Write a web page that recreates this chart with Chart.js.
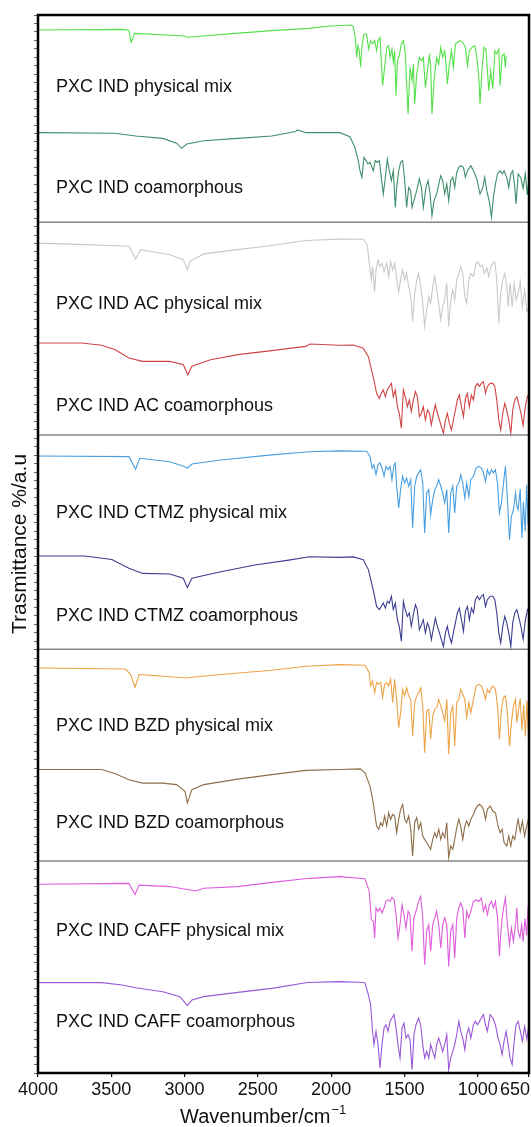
<!DOCTYPE html>
<html lang="en">
<head>
<meta charset="UTF-8">
<title>FTIR spectra</title>
<script src="https://cdn.jsdelivr.net/npm/chart.js"></script>
<style>
  html, body { margin: 0; padding: 0; background: #fff; }
  canvas { display: block; }
</style>
</head>
<body>
<canvas id="myChart" width="531" height="1127"></canvas>

<script>
    // spectra: [wavenumber cm-1, transmittance a.u. inside its own panel (0-10)]
    const pxcIndPm = [[4000,9.29],[3420,9.32],[3380,9.27],[3364,8.71],[3341,9.13],[3002,9.01],[2978,8.95],[2653,9.13],[2405,9.26],[2154,9.37],[2003,9.48],[1864,9.53],
        [1849,9.45],[1835,8.94],[1826,8.00],[1817,8.55],[1808,8.31],[1799,7.53],[1790,8.47],[1776,9.10],[1758,9.10],[1744,8.39],[1731,8.79],[1717,8.63],[1703,8.79],[1690,8.31],[1680,8.79],[1667,8.94],[1658,7.84],[1649,6.66],[1635,7.53],[1621,8.47],[1608,8.55],[1598,8.00],[1585,8.39],[1576,7.76],[1567,8.31],[1557,6.19],[1548,7.84],[1535,8.08],[1521,8.63],[1507,8.79],[1494,8.16],[1475,5.32],[1462,7.53],[1448,6.90],[1439,7.68],[1430,5.79],[1416,7.21],[1398,8.00],[1384,7.84],[1371,8.00],[1357,6.58],[1343,7.37],[1330,8.08],[1321,7.68],[1312,5.32],[1298,6.90],[1280,8.00],[1266,7.68],[1252,8.47],[1239,8.00],[1225,8.31],[1216,7.68],[1207,6.74],[1193,7.68],[1179,8.31],[1166,7.53],[1152,8.63],[1139,8.71],[1120,8.79],[1102,8.71],[1084,8.47],[1070,7.61],[1057,8.31],[1038,8.47],[1020,8.55],[1006,8.00],[993,7.13],[984,5.79],[970,7.53],[956,8.47],[943,8.39],[934,7.37],[924,6.42],[911,7.37],[897,6.50],[883,8.31],[870,8.16],[856,8.39],[847,6.66],[833,8.08],[820,8.16],[811,7.53],[806,8.08]];

    const pxcIndCo = [[4000,4.44],[3473,4.41],[3334,4.28],[3148,4.17],[3055,3.94],[3020,3.70],[2985,3.90],[2869,4.06],[2637,4.17],[2405,4.28],[2242,4.49],[2231,4.57],[2173,4.44],[1941,4.44],
        [1872,4.25],[1838,3.75],[1815,3.12],[1803,2.64],[1790,2.33],[1776,3.27],[1762,3.12],[1749,2.96],[1735,3.04],[1721,2.80],[1712,2.64],[1699,3.12],[1685,3.04],[1671,3.12],[1658,2.33],[1644,1.54],[1630,2.33],[1617,3.19],[1603,2.64],[1589,2.17],[1576,2.64],[1562,0.91],[1553,1.85],[1539,2.64],[1526,3.04],[1512,3.12],[1498,2.17],[1485,0.91],[1471,1.85],[1457,1.70],[1448,0.91],[1435,1.23],[1416,1.70],[1398,2.25],[1384,1.85],[1371,0.91],[1353,1.85],[1339,2.17],[1325,1.54],[1312,0.52],[1298,1.23],[1280,1.54],[1266,2.01],[1252,2.41],[1239,2.17],[1225,1.54],[1211,2.01],[1198,1.23],[1184,2.17],[1170,2.33],[1157,1.85],[1143,2.56],[1129,2.80],[1116,2.88],[1097,2.80],[1084,2.33],[1070,2.64],[1047,2.88],[1029,2.64],[1006,2.25],[984,1.54],[965,1.85],[952,2.33],[938,1.70],[920,1.15],[906,0.44],[893,1.38],[879,2.01],[865,2.49],[847,2.64],[833,2.49],[820,2.64],[802,2.33],[788,1.85],[774,2.49],[761,2.64],[747,1.85],[738,1.07],[724,2.49],[705,2.30],[690,1.80],[675,2.50],[662,1.50],[650,2.30]];

    const pxcIndAcPm = [[4000,9.22],[3682,9.15],[3380,9.07],[3334,8.48],[3299,8.91],[3101,8.67],[3009,8.44],[2981,7.96],[2962,8.36],[2869,8.71],[2637,8.91],[2405,9.11],[2173,9.34],[1941,9.41],
        [1781,9.40],[1753,9.13],[1740,8.26],[1726,7.48],[1717,8.11],[1703,6.93],[1694,7.95],[1680,8.42],[1667,8.11],[1653,8.26],[1639,7.87],[1621,8.26],[1608,7.64],[1594,8.34],[1580,7.95],[1567,8.26],[1553,7.56],[1539,6.93],[1526,7.48],[1512,7.95],[1498,7.48],[1485,7.79],[1471,7.16],[1457,6.69],[1444,5.50],[1430,6.85],[1416,7.48],[1403,7.79],[1389,7.16],[1375,6.37],[1362,5.27],[1348,6.06],[1334,6.69],[1321,6.37],[1307,7.16],[1293,7.64],[1280,7.00],[1266,6.37],[1252,5.59],[1239,6.22],[1225,6.53],[1211,7.32],[1198,5.27],[1184,6.53],[1170,7.00],[1157,6.53],[1143,7.48],[1129,7.79],[1116,8.11],[1102,7.79],[1088,6.69],[1075,6.37],[1061,7.48],[1047,7.79],[1029,7.64],[1011,8.26],[997,8.34],[984,8.11],[970,8.19],[956,7.79],[938,8.03],[924,7.64],[911,8.11],[897,8.26],[883,8.34],[870,7.48],[856,5.43],[843,6.85],[829,7.48],[815,7.79],[802,7.16],[792,6.22],[779,7.32],[765,6.22],[751,7.32],[738,6.53],[724,6.85],[710,7.40],[695,6.20],[680,7.00],[665,6.00],[650,6.20]];

    const pxcIndAcCo = [[4000,4.50],[3705,4.50],[3566,4.39],[3473,4.18],[3380,3.79],[3287,3.63],[3101,3.63],[3009,3.48],[2978,3.00],[2950,3.40],[2823,3.71],[2637,3.95],[2405,4.14],[2173,4.34],[2145,4.45],[1941,4.39],
        [1849,4.40],[1781,4.25],[1746,3.85],[1724,3.22],[1708,2.75],[1690,2.12],[1671,1.88],[1658,2.12],[1644,2.28],[1630,1.96],[1617,2.28],[1603,2.44],[1589,2.59],[1576,1.96],[1562,2.28],[1548,1.49],[1535,1.18],[1521,0.47],[1507,2.28],[1494,1.96],[1480,1.49],[1466,1.81],[1453,1.26],[1439,1.81],[1425,2.20],[1412,1.96],[1398,1.02],[1384,1.18],[1371,1.49],[1357,0.86],[1343,1.33],[1330,1.18],[1316,0.63],[1302,1.18],[1289,1.57],[1275,1.18],[1261,0.86],[1248,0.55],[1234,0.23],[1220,0.86],[1207,1.18],[1193,0.70],[1179,0.39],[1166,0.86],[1152,1.33],[1139,1.81],[1125,2.04],[1111,1.49],[1097,1.02],[1084,1.88],[1070,2.12],[1057,1.49],[1043,2.04],[1029,1.81],[1016,2.44],[1002,2.59],[988,2.44],[975,2.59],[961,2.67],[947,2.12],[934,2.44],[915,2.59],[897,2.59],[883,2.44],[870,1.81],[856,0.86],[843,0.39],[829,1.18],[815,1.65],[802,1.33],[788,0.86],[774,0.23],[761,1.33],[747,1.81],[733,1.96],[724,1.73],[705,1.20],[690,0.60],[675,1.50],[660,2.00],[650,1.90]];

    const pxcIndCtmzPm = [[4000,9.16],[3380,9.13],[3334,8.53],[3306,9.05],[3101,8.89],[2997,8.65],[2981,8.58],[2950,8.78],[2753,8.97],[2405,9.21],[2149,9.36],[1941,9.40],
        [1758,9.38],[1735,9.14],[1721,8.59],[1708,8.75],[1694,8.28],[1680,8.75],[1667,8.83],[1653,8.59],[1639,8.20],[1626,8.67],[1612,8.51],[1598,8.67],[1585,8.04],[1571,8.75],[1562,8.83],[1553,7.73],[1539,6.70],[1526,7.57],[1512,8.20],[1498,7.88],[1485,8.12],[1471,7.73],[1457,8.04],[1444,5.76],[1430,7.73],[1416,8.20],[1403,8.36],[1389,8.51],[1375,7.88],[1362,5.52],[1348,7.41],[1334,7.57],[1321,6.39],[1307,7.10],[1293,7.57],[1280,7.73],[1266,8.04],[1252,7.73],[1239,7.41],[1225,6.94],[1211,7.57],[1198,5.52],[1184,7.41],[1170,7.73],[1157,6.47],[1143,7.73],[1129,7.88],[1116,8.28],[1102,7.88],[1088,7.17],[1075,7.88],[1061,7.25],[1047,8.04],[1029,8.20],[1011,8.59],[993,8.67],[975,8.59],[961,8.36],[947,7.96],[934,8.51],[920,8.28],[906,8.51],[893,8.36],[879,8.51],[865,7.88],[852,6.47],[838,6.94],[824,7.88],[811,8.67],[797,7.10],[783,5.20],[770,6.31],[756,6.62],[742,7.41],[733,6.78],[724,6.62],[710,7.60],[698,5.30],[688,7.00],[676,5.60],[666,7.80],[656,5.90],[650,6.40]];

    const pxcIndCtmzCo = [[4000,4.43],[3682,4.43],[3496,4.27],[3380,3.85],[3287,3.61],[3101,3.58],[3009,3.38],[2981,2.95],[2950,3.38],[2753,3.69],[2521,4.01],[2289,4.24],[2149,4.40],[1941,4.37],
        [1849,4.39],[1781,4.26],[1746,3.79],[1724,3.16],[1708,2.68],[1690,2.05],[1671,1.90],[1658,2.05],[1644,2.21],[1630,1.97],[1617,2.29],[1603,2.21],[1589,2.53],[1576,1.90],[1562,2.21],[1548,1.42],[1535,1.11],[1521,0.40],[1507,2.29],[1494,1.90],[1480,1.58],[1466,1.74],[1453,1.11],[1439,1.66],[1425,2.13],[1412,1.90],[1398,0.95],[1384,1.19],[1371,1.42],[1357,0.80],[1343,1.27],[1330,1.03],[1316,0.48],[1302,1.03],[1289,1.50],[1275,1.11],[1261,0.80],[1248,0.48],[1234,0.16],[1220,0.80],[1207,1.11],[1193,0.64],[1179,0.32],[1166,0.80],[1152,1.27],[1139,1.74],[1125,1.97],[1111,1.42],[1097,0.87],[1084,1.82],[1070,2.05],[1057,1.42],[1043,1.97],[1029,1.74],[1016,2.37],[1002,2.53],[988,2.37],[975,2.53],[961,2.61],[947,2.05],[934,2.37],[915,2.53],[897,2.53],[883,2.37],[870,1.74],[856,0.80],[843,0.32],[829,1.11],[815,1.58],[802,1.27],[788,0.80],[774,0.16],[761,1.27],[747,1.74],[733,1.90],[724,1.66],[705,1.10],[690,0.50],[675,1.40],[660,1.90],[650,1.80]];

    const pxcIndBzdPm = [[4000,9.14],[3403,9.09],[3368,8.83],[3338,8.23],[3310,8.83],[3194,8.78],[3148,8.75],[2985,8.67],[2950,8.70],[2753,8.83],[2405,9.03],[2173,9.22],[1941,9.30],
        [1769,9.27],[1740,8.92],[1731,8.29],[1717,8.53],[1703,7.97],[1690,8.45],[1676,8.37],[1662,8.45],[1649,7.74],[1635,8.37],[1621,8.45],[1608,8.29],[1594,8.61],[1580,7.50],[1567,8.61],[1553,7.66],[1539,6.32],[1526,7.03],[1512,8.13],[1498,7.82],[1485,8.21],[1471,7.82],[1457,7.66],[1444,5.93],[1430,7.50],[1416,7.82],[1403,7.97],[1389,8.21],[1375,7.34],[1362,5.14],[1348,7.11],[1334,7.19],[1321,5.77],[1307,6.87],[1293,7.19],[1280,7.27],[1266,7.66],[1252,7.34],[1239,7.03],[1225,6.64],[1211,7.66],[1198,5.06],[1184,7.03],[1170,7.34],[1157,5.45],[1143,7.50],[1129,7.66],[1116,8.13],[1102,7.90],[1088,7.66],[1075,6.79],[1061,7.50],[1047,7.03],[1029,7.66],[1011,8.29],[993,8.37],[975,8.29],[961,8.05],[947,7.66],[934,8.13],[920,7.97],[906,8.21],[893,8.29],[879,8.13],[865,7.34],[852,5.77],[838,7.19],[824,7.74],[811,7.82],[797,7.03],[783,5.45],[770,6.56],[756,7.34],[742,7.66],[733,6.56],[724,7.03],[710,7.70],[698,6.20],[686,7.40],[675,5.90],[664,7.60],[655,6.10],[650,6.60]];

    const pxcIndBzdCo = [[4000,4.34],[3566,4.34],[3473,4.14],[3380,3.86],[3287,3.70],[3148,3.70],[3055,3.63],[2997,3.31],[2981,2.76],[2950,3.39],[2869,3.63],[2637,3.89],[2405,4.10],[2173,4.30],[1941,4.34],[1801,4.37],
        [1769,4.19],[1735,3.56],[1717,2.93],[1703,2.30],[1690,1.67],[1676,1.52],[1662,1.83],[1649,1.67],[1635,2.15],[1621,1.67],[1608,2.30],[1594,1.99],[1580,2.22],[1567,2.15],[1553,1.36],[1539,1.99],[1526,2.46],[1512,2.70],[1498,1.99],[1485,1.83],[1471,2.15],[1457,1.52],[1444,0.26],[1430,1.83],[1416,2.07],[1403,1.52],[1389,1.83],[1375,1.20],[1362,1.04],[1348,0.89],[1334,0.73],[1321,0.57],[1307,1.04],[1293,1.36],[1280,1.12],[1266,1.52],[1252,1.04],[1239,1.36],[1225,1.12],[1211,1.83],[1198,0.18],[1184,0.73],[1170,0.57],[1157,1.04],[1143,1.59],[1129,1.99],[1116,1.67],[1102,1.04],[1088,1.67],[1075,1.91],[1061,1.67],[1047,1.99],[1029,2.22],[1016,2.46],[1002,2.62],[988,2.70],[975,2.62],[961,2.46],[947,1.99],[934,2.46],[915,2.62],[897,2.38],[879,2.30],[861,1.67],[847,1.36],[833,1.52],[820,0.89],[802,0.73],[788,1.20],[774,0.73],[761,1.20],[747,1.04],[733,1.67],[724,1.99],[710,1.40],[695,1.90],[680,1.20],[665,1.70],[650,2.10]];

    const pxcIndCaffPm = [[4000,8.92],[3380,8.96],[3338,8.44],[3310,8.88],[3101,8.81],[2962,8.65],[2927,8.60],[2869,8.73],[2637,8.81],[2405,9.01],[2149,9.20],[1941,9.28],
        [1769,9.18],[1740,8.59],[1726,7.25],[1712,7.17],[1703,6.38],[1694,7.80],[1680,7.64],[1667,7.80],[1653,7.56],[1639,7.80],[1626,8.11],[1612,8.19],[1598,8.11],[1585,8.30],[1571,8.19],[1557,7.48],[1544,6.38],[1530,7.01],[1516,7.95],[1503,7.48],[1489,6.85],[1475,7.64],[1462,7.48],[1448,5.75],[1435,7.33],[1421,7.64],[1403,8.11],[1389,8.35],[1375,7.33],[1362,5.12],[1348,6.70],[1334,7.01],[1321,5.75],[1307,7.01],[1293,7.33],[1280,7.64],[1266,7.01],[1252,5.91],[1239,7.01],[1225,7.33],[1211,7.01],[1198,5.04],[1184,6.70],[1170,7.01],[1157,5.43],[1143,7.33],[1129,7.80],[1116,8.03],[1102,7.80],[1088,6.38],[1075,7.64],[1061,7.33],[1047,7.64],[1029,8.11],[1011,8.19],[993,8.11],[975,8.27],[961,7.64],[947,7.95],[934,7.48],[920,7.95],[906,8.11],[893,7.80],[879,8.11],[865,7.33],[852,5.51],[838,7.01],[824,7.80],[811,8.27],[797,7.01],[783,6.07],[770,6.85],[756,6.22],[742,7.01],[733,7.80],[724,6.70],[712,6.40],[700,7.00],[690,6.20],[678,7.30],[666,6.50],[656,7.90],[650,7.20]];

    const pxcIndCaffCo = [[4000,4.27],[3566,4.27],[3426,4.16],[3334,4.03],[3148,3.84],[3032,3.61],[2981,3.18],[2950,3.45],[2869,3.61],[2637,3.81],[2405,4.00],[2161,4.28],[1941,4.32],[1778,4.28],
        [1769,4.25],[1746,3.70],[1731,3.23],[1717,1.97],[1708,1.34],[1694,1.97],[1680,1.34],[1667,0.24],[1653,1.34],[1639,2.13],[1626,2.28],[1612,1.97],[1598,2.44],[1585,2.60],[1571,2.76],[1557,2.13],[1544,1.34],[1530,0.71],[1516,2.13],[1503,2.36],[1489,1.65],[1475,1.81],[1462,1.58],[1448,0.16],[1435,1.81],[1421,2.28],[1403,2.60],[1389,2.28],[1375,1.34],[1362,0.71],[1348,1.02],[1334,0.71],[1321,1.34],[1307,1.02],[1293,0.71],[1280,1.34],[1266,1.65],[1252,1.34],[1239,1.02],[1225,1.34],[1211,1.81],[1198,0.16],[1184,0.71],[1170,1.02],[1157,1.34],[1143,1.81],[1129,2.44],[1116,1.97],[1102,1.65],[1088,1.10],[1075,1.81],[1061,2.13],[1047,1.65],[1029,2.28],[1016,2.44],[1002,2.28],[988,2.44],[975,2.60],[961,2.76],[947,2.28],[934,1.97],[915,2.76],[897,2.60],[879,2.28],[861,1.65],[847,1.34],[833,0.87],[820,1.50],[806,1.97],[792,1.34],[779,0.71],[765,0.40],[751,1.50],[738,2.28],[724,2.44],[710,2.00],[695,1.50],[680,2.20],[665,1.60],[650,2.30]];

    const seriesNames = [
        'PXC IND physical mix', 'PXC IND coamorphous',
        'PXC IND AC physical mix', 'PXC IND AC coamorphous',
        'PXC IND CTMZ physical mix', 'PXC IND CTMZ coamorphous',
        'PXC IND BZD physical mix', 'PXC IND BZD coamorphous',
        'PXC IND CAFF physical mix', 'PXC IND CAFF coamorphous'
    ];
    const seriesColors = ['#55e04a', '#3f8f6b', '#c9c9c9', '#d04545', '#4a9fe0', '#3d3d92', '#eba448', '#8d6d48', '#dd5ddd', '#9a58d8'];
    const xTickValues = [4000, 3500, 3000, 2500, 2000, 1500, 1000, 650];

    const spectra = [pxcIndPm, pxcIndCo, pxcIndAcPm, pxcIndAcCo, pxcIndCtmzPm, pxcIndCtmzCo, pxcIndBzdPm, pxcIndBzdCo, pxcIndCaffPm, pxcIndCaffCo];

    // layout bits (not data): where each name sits inside its panel, panel dividers
    const nameY = [6.60, 1.82, 6.34, 1.54, 6.46, 1.61, 6.40, 1.81, 6.71, 2.42];
    const dividers = [40.2, 30.15, 20.03, 10.02];
    const FONT = '"Liberation Sans", Arial, sans-serif';

    function panelShift(i) {
        return (4 - Math.floor(i / 2)) * 10;
    }

    const datasets = spectra.map((pts, i) => ({
        label: seriesNames[i],
        data: pts.map(p => ({ x: p[0], y: p[1] + panelShift(i) })),
        borderColor: seriesColors[i],
        borderWidth: 1.1,
        pointRadius: 0,
        tension: 0,
        fill: false
    }));

    // frame, dividers, trace names and x axis text
    const decorations = {
        id: 'decorations',
        afterDraw(chart) {
            const ctx = chart.ctx;
            const area = chart.chartArea;
            const xs = chart.scales.x;
            const ys = chart.scales.y;
            ctx.save();

            ctx.strokeStyle = '#858585';
            ctx.lineWidth = 1.5;
            dividers.forEach(v => {
                const y = ys.getPixelForValue(v);
                ctx.beginPath();
                ctx.moveTo(area.left, y);
                ctx.lineTo(area.right, y);
                ctx.stroke();
            });

            ctx.strokeStyle = '#000';
            ctx.lineWidth = 2.5;
            ctx.strokeRect(area.left, area.top, area.right - area.left, area.bottom - area.top);

            ctx.fillStyle = '#111';
            ctx.font = '18px ' + FONT;
            ctx.textBaseline = 'middle';
            ctx.textAlign = 'left';
            seriesNames.forEach((name, i) => {
                ctx.fillText(name, area.left + 18, ys.getPixelForValue(nameY[i] + panelShift(i)));
            });

            // tick labels (the last one is pulled inside the canvas as in the figure)
            ctx.textBaseline = 'alphabetic';
            xTickValues.forEach((v, i) => {
                const x = xs.getPixelForValue(v);
                if (i === xTickValues.length - 1) {
                    ctx.textAlign = 'right';
                    ctx.fillText(String(v), chart.width - 1, area.bottom + 22);
                } else {
                    ctx.textAlign = 'center';
                    ctx.fillText(String(v), x, area.bottom + 22);
                }
            });

            // x title with superscript
            ctx.textAlign = 'left';
            ctx.font = '20px ' + FONT;
            const main = 'Wavenumber/cm';
            const x0 = 180;
            ctx.fillText(main, x0, area.bottom + 50);
            const w = ctx.measureText(main).width;
            ctx.font = '13px ' + FONT;
            ctx.fillText('\u22121', x0 + w + 1, area.bottom + 41);

            ctx.restore();
        }
    };

    const config = {
        type: 'line',
        data: { datasets: datasets },
        options: {
            responsive: false,
            animation: false,
            devicePixelRatio: 1,
            layout: { padding: { top: 15, right: 2, left: 0, bottom: 0 } },
            plugins: { legend: { display: false }, tooltip: { enabled: false } },
            scales: {
                x: {
                    type: 'linear',
                    reverse: true,
                    min: 650,
                    max: 4000,
                    afterBuildTicks: s => { s.ticks = xTickValues.map(v => ({ value: v })); },
                    ticks: { display: false },
                    grid: { drawOnChartArea: false, drawTicks: true, tickLength: 4, color: '#111', lineWidth: 1.2 },
                    border: { display: false },
                    afterFit: s => { s.height = 54; s.paddingLeft = 0; s.paddingRight = 0; }
                },
                y: {
                    min: 0,
                    max: 50,
                    ticks: { display: false, stepSize: 0.4 },
                    grid: { drawOnChartArea: false, drawTicks: true, tickLength: 4, color: '#666', lineWidth: 1 },
                    border: { display: false },
                    title: {
                        display: true,
                        text: 'Trasmittance %/a.u',
                        color: '#111',
                        font: { size: 21, family: FONT },
                        padding: { top: 8, bottom: 0 }
                    },
                    afterFit: s => { s.width = 38; s.paddingTop = 0; s.paddingBottom = 0; }
                }
            }
        },
        plugins: [decorations]
    };

    new Chart(document.getElementById('myChart').getContext('2d'), config);
</script>
</body>
</html>
